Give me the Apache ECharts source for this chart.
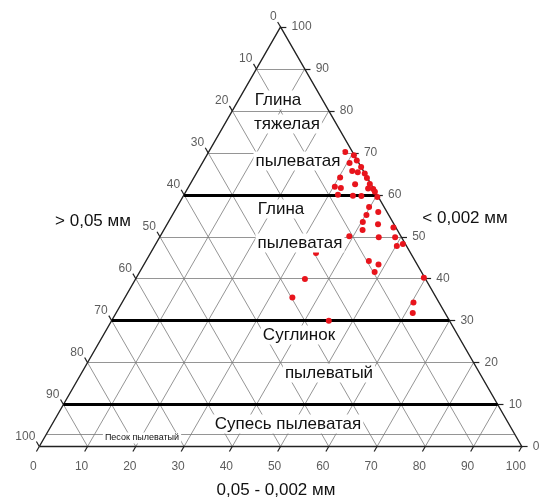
<!DOCTYPE html>
<html>
<head>
<meta charset="utf-8">
<script src="https://cdn.jsdelivr.net/npm/echarts@6/dist/echarts.min.js"></script>
<style>
html, body { margin: 0; background: #fff; }
#chart { width: 541px; height: 502px; }
</style>
</head>
<body>
<div id="chart"></div>
<script>
// точки образцов: глина (< 0,002 мм), %
var clay = [70.2, 69.4, 68.2, 67.6, 66.6, 65.7, 65.4, 65.1, 64.1, 64.0,
            62.5, 62.6, 61.9, 61.6, 61.5, 61.4, 60.0, 59.8, 59.7, 60.7,
            59.5, 57.1, 55.9, 55.2, 53.5, 53.0, 51.6, 52.2, 50.1, 49.9,
            49.9, 47.8, 48.3, 46.1, 44.2, 43.4, 41.6, 39.9, 40.2, 35.5,
            34.3, 31.8, 30.0];
// пыль (0,05 - 0,002 мм), %
var silt = [28.3, 30.5, 31.7, 30.5, 33.4, 32.0, 33.3, 34.9, 30.3, 35.9,
            34.2, 37.2, 30.3, 31.7, 37.4, 38.5, 31.9, 35.1, 36.9, 39.2,
            40.3, 39.8, 42.3, 40.2, 40.3, 43.7, 41.2, 47.3, 39.2, 45.4,
            48.8, 50.2, 51.2, 34.3, 46.2, 48.6, 48.7, 35.1, 59.6, 34.7,
            60.4, 61.5, 45.0];

var tickValues = [0, 10, 20, 30, 40, 50, 60, 70, 80, 90, 100];
var boldClay = [60, 30, 10];   // границы классов
var thinClay = [3];            // песок пылеватый

var K = Math.sqrt(3) / 2;
function xy(c, s) { return [s + c / 2, c * K]; }

// сетка
var gridSeg = [];
for (var i = 10; i < 100; i += 10) {
    gridSeg.push({coords: [xy(i, 0), xy(i, 100 - i)]});
    gridSeg.push({coords: [xy(0, i), xy(100 - i, i)]});
    gridSeg.push({coords: [xy(0, 100 - i), xy(100 - i, 0)]});
}
thinClay.forEach(function (c) {
    gridSeg.push({coords: [xy(c, 0), xy(c, 100 - c)]});
});
var boldSeg = boldClay.map(function (c) {
    return {coords: [xy(c, 0), xy(c, 100 - c)]};
});
var frame = [{coords: [xy(0, 0), xy(0, 100), xy(100, 0), xy(0, 0)]}];

// засечки
var L = 1.2;
var tickSeg = [];
tickValues.forEach(function (v) {
    var b = xy(0, v);
    tickSeg.push({coords: [b, [b[0] - 0.5 * L, b[1] - K * L]]});
    var r = xy(v, 100 - v);
    tickSeg.push({coords: [r, [r[0] + L, r[1]]]});
    var l = xy(100 - v, 0);
    tickSeg.push({coords: [l, [l[0] - 0.5 * L, l[1] + K * L]]});
});

var pts = clay.map(function (c, i) { return xy(c, silt[i]); });

var labelFont = {fontFamily: 'Liberation Sans', fontSize: 12, color: '#333'};

function txt(t, x, y, size, bg) {
    return {
        type: 'text', x: x, y: y, z: 50,
        style: {
            text: t, fill: '#111', font: size + 'px "Liberation Sans"',
            textAlign: 'center', textVerticalAlign: 'middle',
            backgroundColor: bg ? '#fff' : null, padding: bg ? [1, 2] : 0
        }
    };
}

var chart = echarts.init(document.getElementById('chart'));
var option = {
    animation: false,
    grid: {left: 39.3, right: 19.2, top: 27, bottom: 55.5},
    xAxis: {type: 'value', min: 0, max: 100, show: false},
    yAxis: {type: 'value', min: 0, max: 100 * K, show: false},
    series: [
        {
            type: 'lines', coordinateSystem: 'cartesian2d', polyline: false,
            silent: true, clip: false, z: 1,
            lineStyle: {color: '#7a7a7a', width: 0.8, opacity: 1},
            data: gridSeg
        },
        {
            type: 'lines', coordinateSystem: 'cartesian2d', polyline: true,
            silent: true, clip: false, z: 2,
            lineStyle: {color: '#222', width: 1.4, opacity: 1},
            data: frame
        },
        {
            type: 'lines', coordinateSystem: 'cartesian2d', polyline: false,
            silent: true, clip: false, z: 2,
            lineStyle: {color: '#222', width: 1.2, opacity: 1},
            data: tickSeg
        },
        {
            type: 'lines', coordinateSystem: 'cartesian2d', polyline: false,
            silent: true, clip: false, z: 3,
            lineStyle: {color: '#000', width: 2.8, opacity: 1},
            data: boldSeg
        },
        {
            // подписи нижней оси
            type: 'scatter', symbolSize: 0, silent: true, clip: false,
            data: tickValues.map(function (v) { return xy(0, v); }),
            label: Object.assign({show: true, position: 'inside', offset: [-6, 20],
                formatter: function (p) { return tickValues[p.dataIndex]; }}, labelFont)
        },
        {
            // правая ось
            type: 'scatter', symbolSize: 0, silent: true, clip: false,
            data: tickValues.map(function (v) { return xy(v, 100 - v); }),
            label: Object.assign({show: true, position: 'right', distance: 11,
                formatter: function (p) { return tickValues[p.dataIndex]; }}, labelFont)
        },
        {
            // левая ось
            type: 'scatter', symbolSize: 0, silent: true, clip: false,
            data: tickValues.map(function (v) { return xy(100 - v, 0); }),
            label: Object.assign({show: true, position: 'left', distance: 4, offset: [0, -10],
                formatter: function (p) { return tickValues[p.dataIndex]; }}, labelFont)
        },
        {
            type: 'scatter', symbol: 'circle', symbolSize: 6, z: 10, clip: false,
            itemStyle: {color: '#e8141c', opacity: 1},
            data: pts
        }
    ],
    graphic: [
        txt('Глина', 278, 100, 17, true),
        txt('тяжелая', 287, 124, 17, true),
        txt('пылеватая', 298, 161, 17, true),
        txt('Глина', 281, 209, 17, true),
        txt('пылеватая', 300, 243, 17, true),
        txt('Суглинок', 299, 335, 17, true),
        txt('пылеватый', 329, 373, 17, true),
        txt('Супесь пылеватая', 288, 424, 17, true),
        txt('Песок пылеватый', 142, 438, 9, true),
        txt('> 0,05 мм', 93, 221, 17, false),
        txt('< 0,002 мм', 465, 218, 17, false),
        txt('0,05 - 0,002 мм', 276, 490, 17, false)
    ]
};
chart.setOption(option);
</script>
</body>
</html>
